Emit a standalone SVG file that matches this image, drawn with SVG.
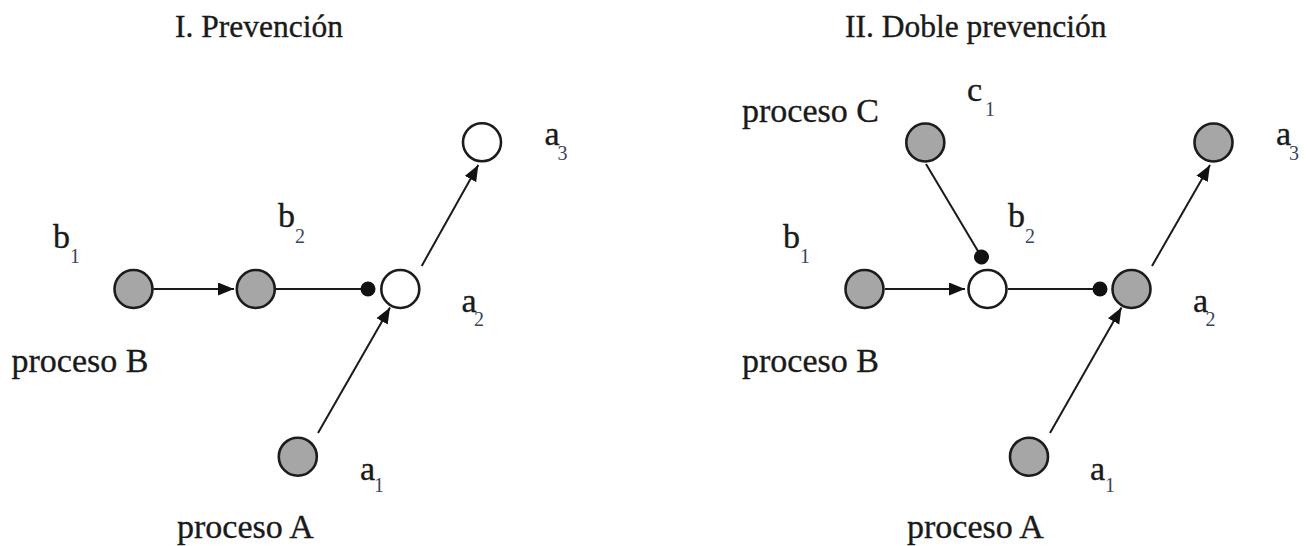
<svg xmlns="http://www.w3.org/2000/svg" width="1307" height="546" viewBox="0 0 1307 546">
<style>
  .bg { fill: #ffffff; }
  .title { font-family: "Liberation Serif", "Times New Roman", serif; font-size: 31.5px; fill: #1a1a1a; stroke: #1a1a1a; stroke-width: 0.35; }
  .lbl { font-family: "Liberation Serif", "Times New Roman", serif; font-size: 34px; fill: #1a1a1a; stroke: #1a1a1a; stroke-width: 0.35; }
  .sub { font-size: 20px; fill: #3a4560; stroke: none; }
  .gray { fill: #a6a6a6; stroke: #1c1c1c; stroke-width: 2.6; }
  .white { fill: #ffffff; stroke: #1c1c1c; stroke-width: 2.6; }
  .edge { stroke: #1a1a1a; stroke-width: 2; fill: none; }
</style>
<defs>
  <marker id="arrow" markerUnits="userSpaceOnUse" markerWidth="17" markerHeight="14" refX="16" refY="6.5" orient="auto">
    <path d="M0,0 L16,6.5 L0,13 z" fill="#111111"/>
  </marker>
  <marker id="dot" markerUnits="userSpaceOnUse" markerWidth="17" markerHeight="17" refX="8.5" refY="8.5" orient="auto">
    <circle cx="8.5" cy="8.5" r="7.5" fill="#111111"/>
  </marker>
</defs>
<rect class="bg" x="0" y="0" width="1307" height="546"/>

<text class="title" x="175" y="37">I. Prevención</text>
<text class="title" x="845" y="37">II. Doble prevención</text>

<g id="connectors">
  <line class="edge" x1="153.5" y1="289" x2="234" y2="289" marker-end="url(#arrow)"/>
  <line class="edge" x1="276" y1="289" x2="368" y2="289" marker-end="url(#dot)"/>
  <line class="edge" x1="318" y1="433" x2="390" y2="307.5" marker-end="url(#arrow)"/>
  <line class="edge" x1="421.7" y1="266" x2="478.3" y2="165" marker-end="url(#arrow)"/>

  <line class="edge" x1="885" y1="289" x2="965" y2="289" marker-end="url(#arrow)"/>
  <line class="edge" x1="1008" y1="289" x2="1100" y2="289" marker-end="url(#dot)"/>
  <line class="edge" x1="926" y1="164" x2="981.5" y2="257" marker-end="url(#dot)"/>
  <line class="edge" x1="1050" y1="433" x2="1121.5" y2="307.5" marker-end="url(#arrow)"/>
  <line class="edge" x1="1152" y1="266" x2="1210" y2="165" marker-end="url(#arrow)"/>
</g>

<!-- I. Prevención -->
<g id="L-b1">
  <circle class="gray" cx="133.5" cy="289" r="19"/>
  <text class="lbl"><tspan x="53" y="248">b</tspan><tspan class="sub" x="70" y="263">1</tspan></text>
</g>
<g id="L-b2">
  <circle class="gray" cx="255.8" cy="289" r="19"/>
  <text class="lbl"><tspan x="278" y="227">b</tspan><tspan class="sub" x="295" y="243">2</tspan></text>
</g>
<g id="L-a2">
  <circle class="white" cx="400.3" cy="289" r="19"/>
  <text class="lbl"><tspan x="461.5" y="311.5">a</tspan><tspan class="sub" x="474" y="326">2</tspan></text>
</g>
<g id="L-a3">
  <circle class="white" cx="482" cy="142.3" r="19"/>
  <text class="lbl"><tspan x="544.5" y="145">a</tspan><tspan class="sub" x="557.5" y="160">3</tspan></text>
</g>
<g id="L-a1">
  <circle class="gray" cx="297.8" cy="456.7" r="19"/>
  <text class="lbl"><tspan x="360" y="480">a</tspan><tspan class="sub" x="374" y="492">1</tspan></text>
</g>
<text class="lbl" x="11.5" y="371.5">proceso B</text>
<text class="lbl" x="177" y="538">proceso A</text>

<!-- II. Doble prevención -->
<g id="R-c1">
  <circle class="gray" cx="925.3" cy="142.5" r="19"/>
  <text class="lbl"><tspan x="967" y="101">c</tspan><tspan class="sub" x="985" y="116">1</tspan></text>
</g>
<g id="R-b1">
  <circle class="gray" cx="864.5" cy="289" r="19"/>
  <text class="lbl"><tspan x="783" y="248">b</tspan><tspan class="sub" x="800" y="263">1</tspan></text>
</g>
<g id="R-b2">
  <circle class="white" cx="987.5" cy="289" r="19"/>
  <text class="lbl"><tspan x="1008" y="227">b</tspan><tspan class="sub" x="1025" y="243">2</tspan></text>
</g>
<g id="R-a2">
  <circle class="gray" cx="1131.5" cy="289" r="19"/>
  <text class="lbl"><tspan x="1193" y="311.5">a</tspan><tspan class="sub" x="1205.5" y="326">2</tspan></text>
</g>
<g id="R-a3">
  <circle class="gray" cx="1213.5" cy="142.5" r="19"/>
  <text class="lbl"><tspan x="1276" y="145">a</tspan><tspan class="sub" x="1289" y="160">3</tspan></text>
</g>
<g id="R-a1">
  <circle class="gray" cx="1029" cy="456.7" r="19"/>
  <text class="lbl"><tspan x="1090" y="480">a</tspan><tspan class="sub" x="1105" y="492">1</tspan></text>
</g>
<text class="lbl" x="742" y="371.5">proceso B</text>
<text class="lbl" x="742" y="121.7">proceso C</text>
<text class="lbl" x="907" y="538">proceso A</text>
</svg>
